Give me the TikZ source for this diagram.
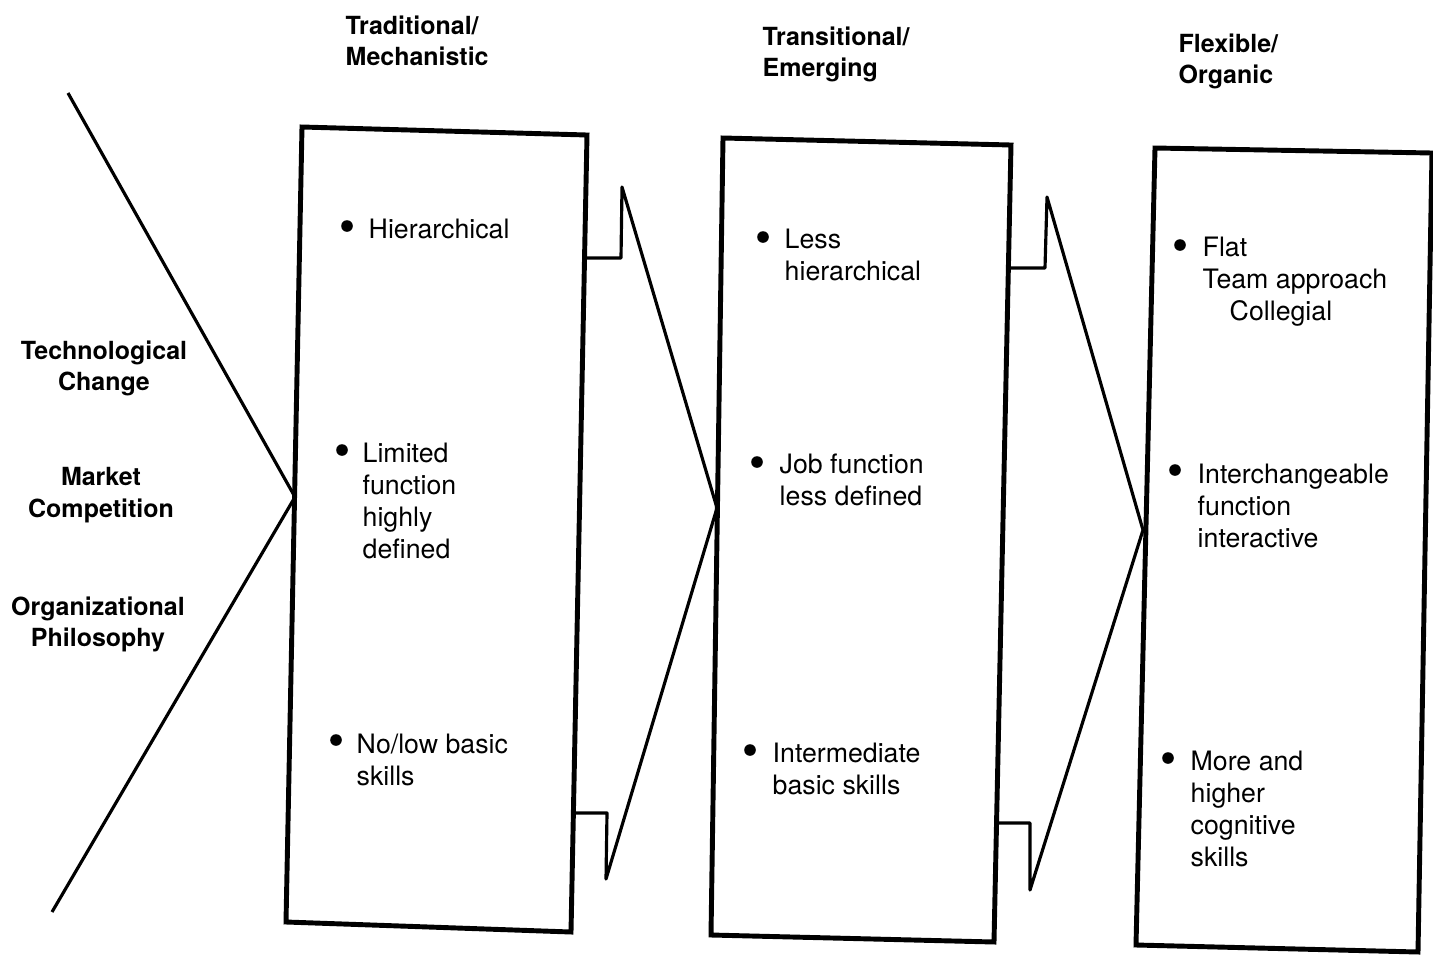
\documentclass[tikz,border=0pt]{standalone}
\usepackage{fontspec}
\setmainfont{TeX Gyre Heros}
\usetikzlibrary{positioning}

\tikzset{
  boxline/.style={line width=1.4pt, line join=miter},
  arrowline/.style={line width=0.9pt, line join=round},
  item/.style={anchor=north west, inner sep=0pt, align=left, font=\fontsize{7.6}{9.1}\selectfont},
  head/.style={anchor=north west, inner sep=0pt, align=left, font=\fontsize{7.1}{8.9}\selectfont\bfseries},
  force/.style={anchor=north, inner sep=0pt, align=center, font=\fontsize{7.1}{8.9}\selectfont\bfseries},
  dot/.style={circle, fill, inner sep=0pt, minimum size=3.3pt},
}

\begin{document}
\begin{tikzpicture}[x=0.01cm, y=-0.01cm]
    \useasboundingbox (0,0) rectangle (1433,954);

    % Forces on the left
    \draw[arrowline] (68,93) -- (295,497) coordinate (tip0) -- (52,912);
    \node[force] (tech) at (104,340) {Technological\\Change};
    \node[force] (market) at (101,467) {Market\\Competition};
    \node[force] (philo) at (98,596) {Organizational\\Philosophy};

    % Headers
    \node[head] (trad) at (345,15) {Traditional/\\Mechanistic};
    \node[head] (trans) at (762,26) {Transitional/\\Emerging};
    \node[head] (flex) at (1178,33) {Flexible/\\Organic};

    % Boxes
    \draw[boxline] (302,127) -- (587,135) -- (571,932) -- (286,922) -- cycle;
    \draw[boxline] (723,138) -- (1011,145) -- (994,942) -- (711,935) -- cycle;
    \draw[boxline] (1155,148) -- (1432,153) -- (1418,952) -- (1136,945) -- cycle;

    % Arrows between boxes
    \draw[arrowline] (585,258) -- (621,258) -- (622,187) -- (717,508) coordinate (tip1)
        -- (606,879) -- (607,813) -- (573,813);
    \draw[arrowline] (1010,268) -- (1045,268) -- (1047,197) -- (1143,530) coordinate (tip2)
        -- (1030,890) -- (1030,823) -- (997,823);

    % Traditional
    \node[dot] (d11) at (347,226) {};
    \node[item] (t11) at (368,218) {Hierarchical};
    \node[dot] (d12) at (342,450) {};
    \node[item] (t12) at (362,442) {Limited\\function\\highly\\defined};
    \node[dot] (d13) at (336,740) {};
    \node[item] (t13) at (356,733) {No/low basic\\skills};

    % Transitional
    \node[dot] (d21) at (763,237) {};
    \node[item] (t21) at (784,228) {Less\\hierarchical};
    \node[dot] (d22) at (757,462) {};
    \node[item] (t22) at (779,453) {Job function\\less defined};
    \node[dot] (d23) at (750,750) {};
    \node[item] (t23) at (772,742) {Intermediate\\basic skills};

    % Flexible
    \node[dot] (d31) at (1180,245) {};
    \node[item] (t31) at (1202,236) {Flat\\Team approach\\\hspace*{0.27cm}Collegial};
    \node[dot] (d32) at (1175,470) {};
    \node[item] (t32) at (1197,463) {Interchangeable\\function\\interactive};
    \node[dot] (d33) at (1168,758) {};
    \node[item] (t33) at (1190,750) {More and\\higher\\cognitive\\skills};
\end{tikzpicture}
\end{document}
